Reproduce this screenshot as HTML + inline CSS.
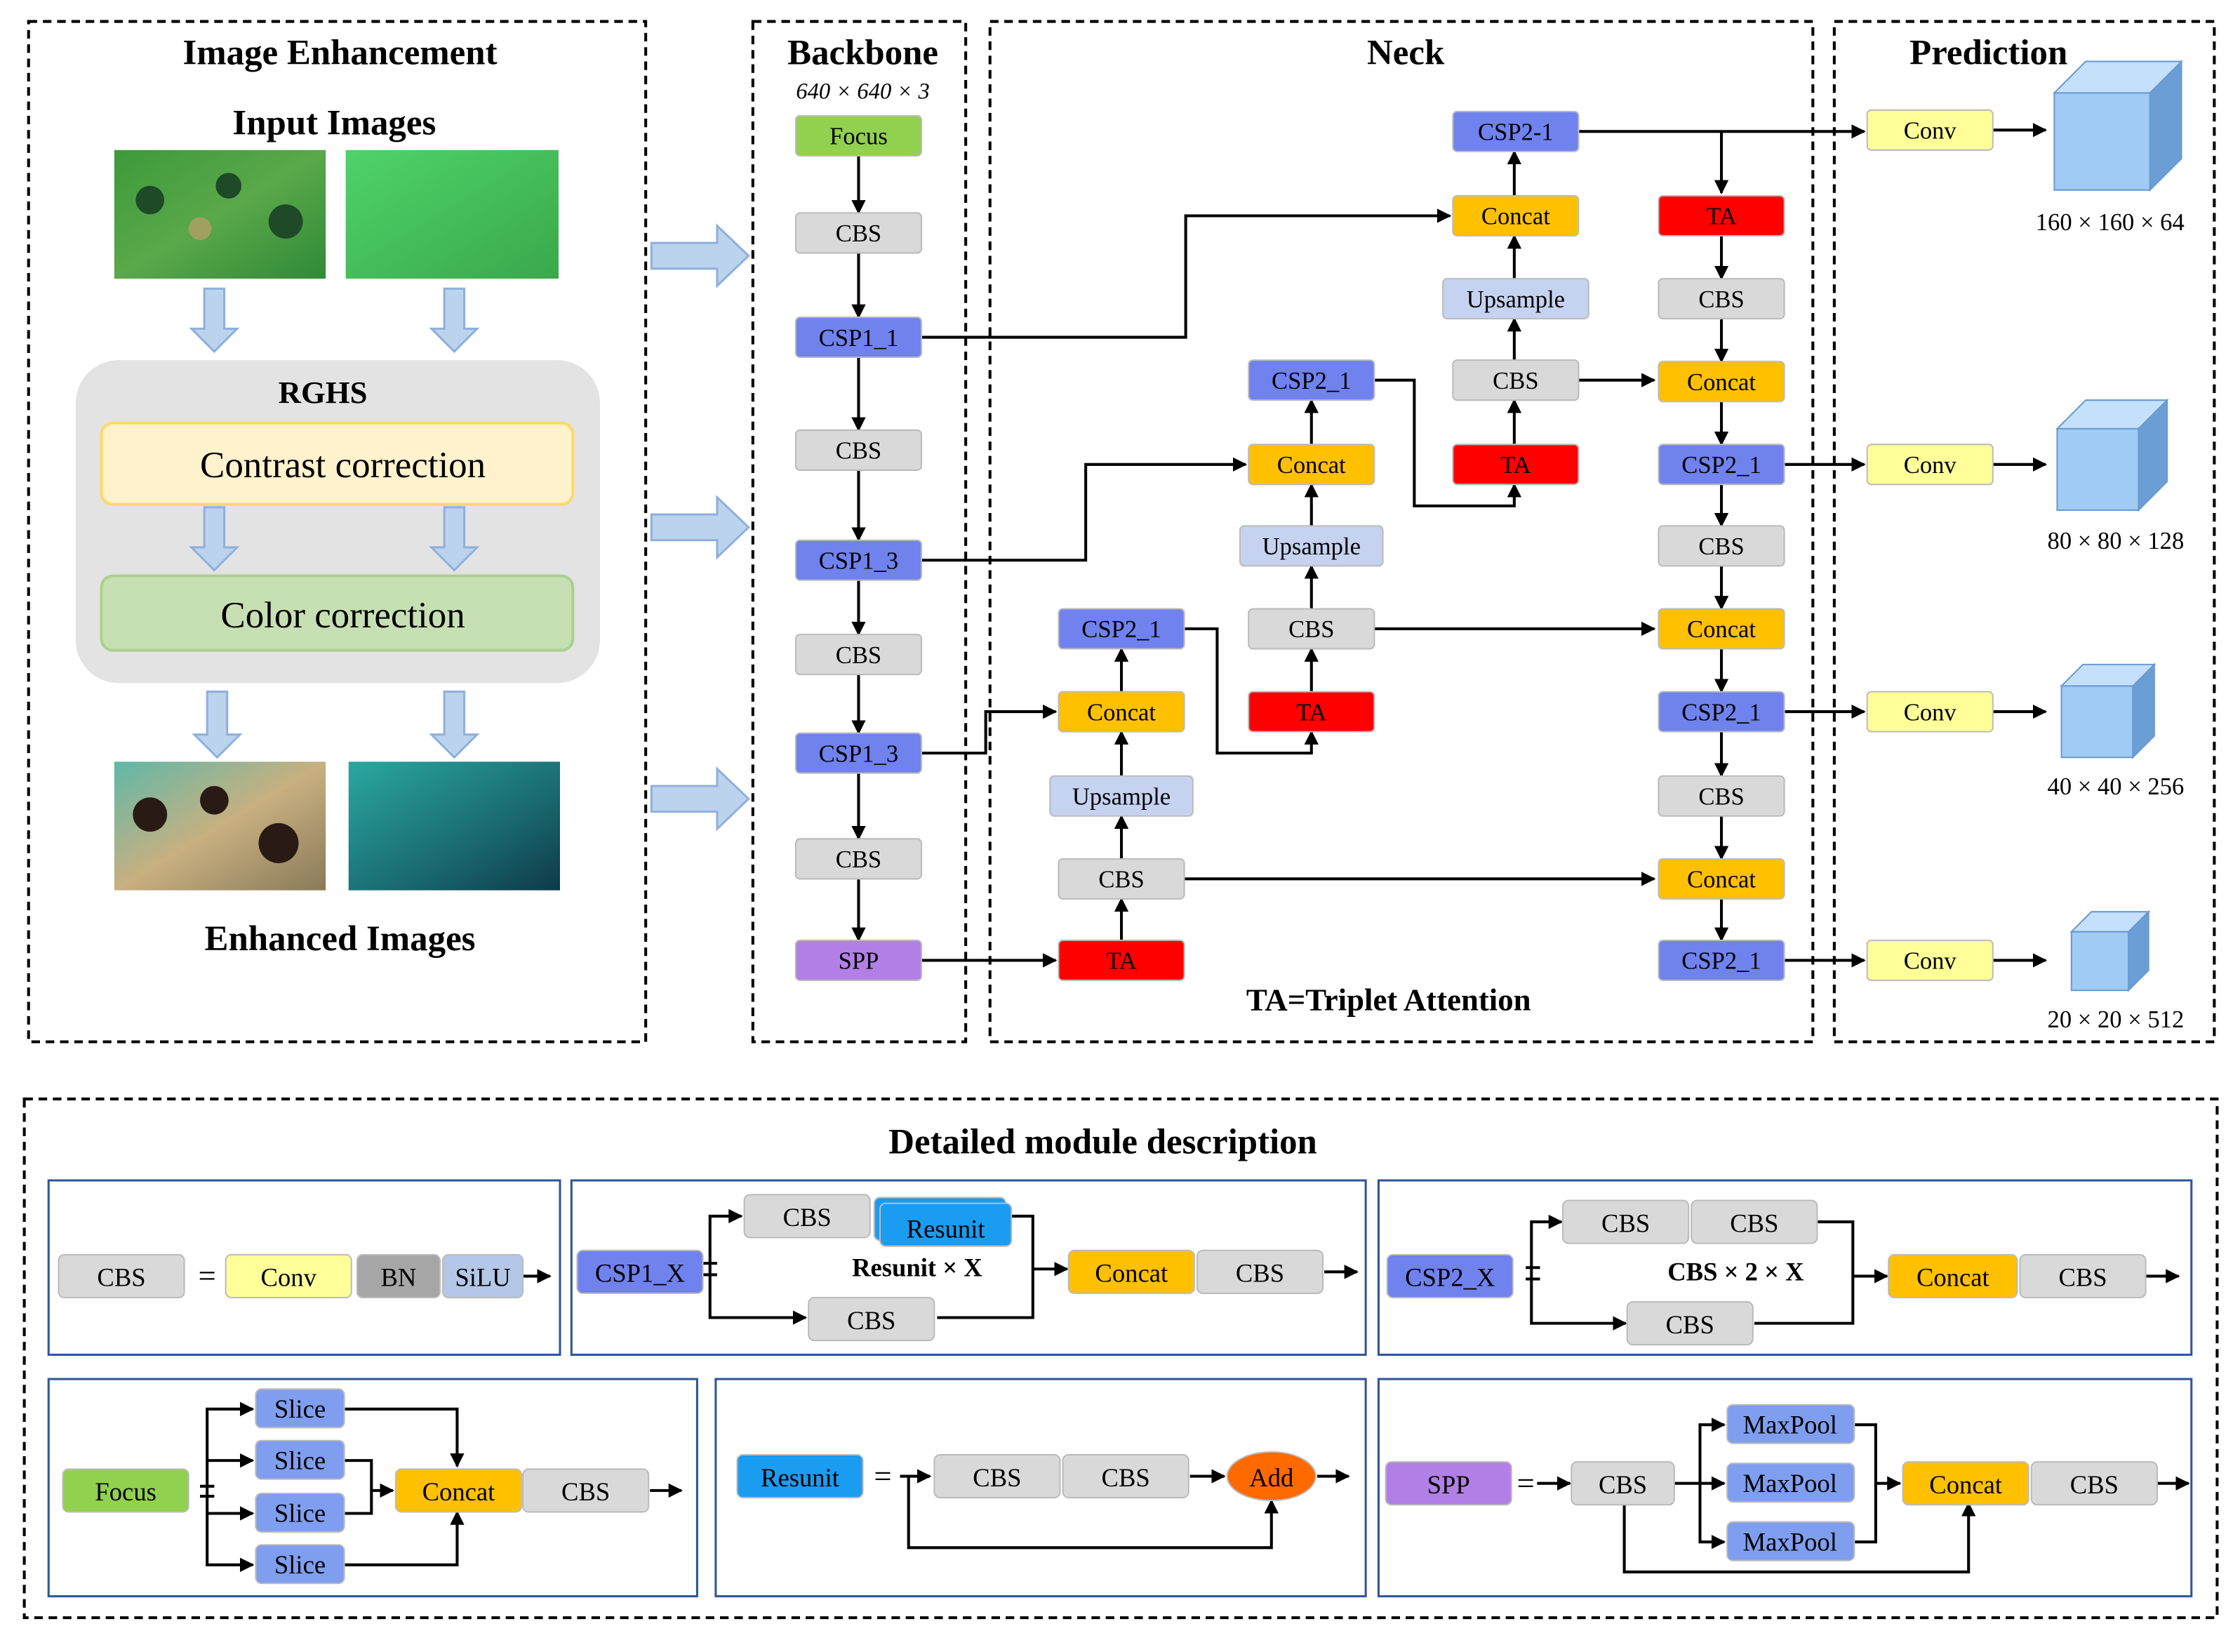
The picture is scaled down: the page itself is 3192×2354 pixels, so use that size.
<!DOCTYPE html>
<html><head><meta charset="utf-8"><style>
html,body{margin:0;padding:0;background:#fff;}
svg{display:block;}
text{font-family:"Liberation Serif",serif;}
</style></head><body>
<svg width="3192" height="2354" viewBox="0 0 1568 1156" preserveAspectRatio="none" xmlns="http://www.w3.org/2000/svg">
<defs>
<marker id="a" viewBox="0 0 10 10" refX="9" refY="5" markerWidth="5" markerHeight="5" orient="auto"><path d="M0,0 L10,5 L0,10 z" fill="#000"/></marker>
<linearGradient id="g1" x1="0" y1="0" x2="1" y2="1"><stop offset="0" stop-color="#3c9a3a"/><stop offset="0.5" stop-color="#5aa84a"/><stop offset="1" stop-color="#2f8a36"/></linearGradient>
<linearGradient id="g2" x1="0" y1="0" x2="1" y2="1"><stop offset="0" stop-color="#4fd36a"/><stop offset="1" stop-color="#3aa84a"/></linearGradient>
<linearGradient id="g3" x1="0" y1="0" x2="1" y2="1"><stop offset="0" stop-color="#5fb8a8"/><stop offset="0.5" stop-color="#c8b080"/><stop offset="1" stop-color="#8a7a5a"/></linearGradient>
<linearGradient id="g4" x1="0" y1="0" x2="1" y2="1"><stop offset="0" stop-color="#2aa8a0"/><stop offset="0.6" stop-color="#1a6a70"/><stop offset="1" stop-color="#0e3a48"/></linearGradient>
</defs>
<g fill="none" stroke="#000" stroke-width="2" stroke-dasharray="6,4">
<rect x="20" y="15" width="432" height="714"/>
<rect x="527" y="15" width="149" height="714"/>
<rect x="693" y="15" width="576" height="714"/>
<rect x="1284" y="15" width="266" height="714"/>
<rect x="17" y="769" width="1535" height="363"/>
</g>
<g font-weight="bold" font-size="25" text-anchor="middle">
<text x="238" y="45">Image Enhancement</text>
<text x="234" y="94">Input Images</text>
<text x="604" y="45">Backbone</text>
<text x="984" y="45">Neck</text>
<text x="1392" y="45">Prediction</text>
<text x="238" y="665">Enhanced  Images</text>
<text x="772" y="807">Detailed module description</text>
<text x="972" y="707" font-size="22">TA=Triplet Attention</text>
</g>
<text x="604" y="69" font-size="16" text-anchor="middle" font-style="italic">640 × 640 × 3</text>
<rect x="80" y="105" width="148" height="90" fill="url(#g1)"/>
<circle cx="105" cy="140" r="10" fill="#1e4a28"/><circle cx="160" cy="130" r="9" fill="#1e4a28"/><circle cx="200" cy="155" r="12" fill="#1e4a28"/><circle cx="140" cy="160" r="8" fill="#a0a060"/>
<rect x="242" y="105" width="149" height="90" fill="url(#g2)"/>
<rect x="80" y="533" width="148" height="90" fill="url(#g3)"/>
<circle cx="105" cy="570" r="12" fill="#2a1a14"/><circle cx="150" cy="560" r="10" fill="#2a1a14"/><circle cx="195" cy="590" r="14" fill="#2a1a14"/>
<rect x="244" y="533" width="148" height="90" fill="url(#g4)"/>
<rect x="53" y="252" width="367" height="226" rx="30" fill="#e3e3e3"/>
<text x="226" y="282" font-size="22" font-weight="bold" text-anchor="middle">RGHS</text>
<rect x="71" y="296" width="330" height="57" rx="8" fill="#fff2cc" stroke="#ffd966" stroke-width="2"/>
<text x="240" y="334" font-size="26" text-anchor="middle">Contrast  correction</text>
<rect x="71" y="403" width="330" height="52" rx="8" fill="#c6e0b4" stroke="#a9d18e" stroke-width="2"/>
<text x="240" y="439" font-size="26" text-anchor="middle">Color  correction</text>
<g fill="#bcd3ee" stroke="#8fb0dc" stroke-width="1.5">
<path d="M143,202 h14 v28 h9 l-16,16 l-16,-16 h9z"/>
<path d="M311,202 h14 v28 h9 l-16,16 l-16,-16 h9z"/>
<path d="M143,355 h14 v28 h9 l-16,16 l-16,-16 h9z"/>
<path d="M311,355 h14 v28 h9 l-16,16 l-16,-16 h9z"/>
<path d="M145,484 h14 v30 h9 l-16,16 l-16,-16 h9z"/>
<path d="M311,484 h14 v30 h9 l-16,16 l-16,-16 h9z"/>
<path d="M456,170 h46 v-12 l22,21 l-22,21 v-12 h-46z"/>
<path d="M456,360 h46 v-12 l22,21 l-22,21 v-12 h-46z"/>
<path d="M456,550 h46 v-12 l22,21 l-22,21 v-12 h-46z"/>
</g>
<g stroke="#000" stroke-width="2" fill="none" marker-end="url(#a)">
<path d="M601,109 V149"/><path d="M601,177 V222"/><path d="M601,250 V301"/><path d="M601,329 V378"/><path d="M601,406 V444"/><path d="M601,472 V513"/><path d="M601,541 V587"/><path d="M601,615 V658"/>
<path d="M645,236 H830 V151 H1015"/>
<path d="M645,392 H760 V325 H872"/>
<path d="M645,527 H690 V498 H739"/>
<path d="M645,672 H739"/>
<path d="M785,658 V629"/><path d="M785,601 V571"/><path d="M785,543 V512"/><path d="M785,484 V454"/>
<path d="M829,440 H852 V527 H918 V512"/>
<path d="M918,484 V454"/><path d="M918,426 V396"/><path d="M918,368 V339"/><path d="M918,311 V280"/>
<path d="M962,266 H990 V354 H1060 V339"/>
<path d="M1060,311 V280"/><path d="M1060,252 V223"/><path d="M1060,195 V165"/><path d="M1060,137 V106"/>
<path d="M1104,92 H1305"/><path d="M1205,92 V135"/>
<path d="M1205,165 V195"/><path d="M1205,223 V253"/><path d="M1205,281 V311"/><path d="M1205,339 V368"/><path d="M1205,396 V426"/><path d="M1205,454 V484"/><path d="M1205,512 V543"/><path d="M1205,571 V601"/><path d="M1205,629 V658"/>
<path d="M1104,266 H1158"/><path d="M962,440 H1158"/><path d="M829,615 H1158"/>
<path d="M1249,325 H1305"/><path d="M1249,498 H1305"/><path d="M1249,672 H1305"/>
<path d="M1395,91 H1432"/><path d="M1395,325 H1432"/><path d="M1395,498 H1432"/><path d="M1395,672 H1432"/>
</g>
<g font-size="17" text-anchor="middle" stroke="#bbb" stroke-width="1">
<rect x="557" y="81" width="88" height="28" rx="3" fill="#92d050"/>
<rect x="557" y="149" width="88" height="28" rx="3" fill="#d9d9d9"/>
<rect x="557" y="222" width="88" height="28" rx="3" fill="#7082ee"/>
<rect x="557" y="301" width="88" height="28" rx="3" fill="#d9d9d9"/>
<rect x="557" y="378" width="88" height="28" rx="3" fill="#7082ee"/>
<rect x="557" y="444" width="88" height="28" rx="3" fill="#d9d9d9"/>
<rect x="557" y="513" width="88" height="28" rx="3" fill="#7082ee"/>
<rect x="557" y="587" width="88" height="28" rx="3" fill="#d9d9d9"/>
<rect x="557" y="658" width="88" height="28" rx="3" fill="#b27fe6"/>
<rect x="741" y="658" width="88" height="28" rx="3" fill="#ff0000"/>
<rect x="741" y="601" width="88" height="28" rx="3" fill="#d9d9d9"/>
<rect x="735" y="543" width="100" height="28" rx="3" fill="#c5d3f0"/>
<rect x="741" y="484" width="88" height="28" rx="3" fill="#ffc000"/>
<rect x="741" y="426" width="88" height="28" rx="3" fill="#7082ee"/>
<rect x="874" y="484" width="88" height="28" rx="3" fill="#ff0000"/>
<rect x="874" y="426" width="88" height="28" rx="3" fill="#d9d9d9"/>
<rect x="868" y="368" width="100" height="28" rx="3" fill="#c5d3f0"/>
<rect x="874" y="311" width="88" height="28" rx="3" fill="#ffc000"/>
<rect x="874" y="252" width="88" height="28" rx="3" fill="#7082ee"/>
<rect x="1017" y="311" width="88" height="28" rx="3" fill="#ff0000"/>
<rect x="1017" y="252" width="88" height="28" rx="3" fill="#d9d9d9"/>
<rect x="1010" y="195" width="102" height="28" rx="3" fill="#c5d3f0"/>
<rect x="1017" y="137" width="88" height="28" rx="3" fill="#ffc000"/>
<rect x="1017" y="78" width="88" height="28" rx="3" fill="#7082ee"/>
<rect x="1161" y="137" width="88" height="28" rx="3" fill="#ff0000"/>
<rect x="1161" y="195" width="88" height="28" rx="3" fill="#d9d9d9"/>
<rect x="1161" y="253" width="88" height="28" rx="3" fill="#ffc000"/>
<rect x="1161" y="311" width="88" height="28" rx="3" fill="#7082ee"/>
<rect x="1161" y="368" width="88" height="28" rx="3" fill="#d9d9d9"/>
<rect x="1161" y="426" width="88" height="28" rx="3" fill="#ffc000"/>
<rect x="1161" y="484" width="88" height="28" rx="3" fill="#7082ee"/>
<rect x="1161" y="543" width="88" height="28" rx="3" fill="#d9d9d9"/>
<rect x="1161" y="601" width="88" height="28" rx="3" fill="#ffc000"/>
<rect x="1161" y="658" width="88" height="28" rx="3" fill="#7082ee"/>
<rect x="1307" y="77" width="88" height="28" rx="3" fill="#ffff99"/>
<rect x="1307" y="311" width="88" height="28" rx="3" fill="#ffff99"/>
<rect x="1307" y="484" width="88" height="28" rx="3" fill="#ffff99"/>
<rect x="1307" y="658" width="88" height="28" rx="3" fill="#ffff99"/>
</g>
<g font-size="17" text-anchor="middle">
<text x="601" y="101">Focus</text><text x="601" y="169">CBS</text><text x="601" y="242">CSP1_1</text><text x="601" y="321">CBS</text><text x="601" y="398">CSP1_3</text><text x="601" y="464">CBS</text><text x="601" y="533">CSP1_3</text><text x="601" y="607">CBS</text><text x="601" y="678">SPP</text>
<text x="785" y="678">TA</text><text x="785" y="621">CBS</text><text x="785" y="563">Upsample</text><text x="785" y="504">Concat</text><text x="785" y="446">CSP2_1</text>
<text x="918" y="504">TA</text><text x="918" y="446">CBS</text><text x="918" y="388">Upsample</text><text x="918" y="331">Concat</text><text x="918" y="272">CSP2_1</text>
<text x="1061" y="331">TA</text><text x="1061" y="272">CBS</text><text x="1061" y="215">Upsample</text><text x="1061" y="157">Concat</text><text x="1061" y="98">CSP2-1</text>
<text x="1205" y="157">TA</text><text x="1205" y="215">CBS</text><text x="1205" y="273">Concat</text><text x="1205" y="331">CSP2_1</text><text x="1205" y="388">CBS</text><text x="1205" y="446">Concat</text><text x="1205" y="504">CSP2_1</text><text x="1205" y="563">CBS</text><text x="1205" y="621">Concat</text><text x="1205" y="678">CSP2_1</text>
<text x="1351" y="97">Conv</text><text x="1351" y="331">Conv</text><text x="1351" y="504">Conv</text><text x="1351" y="678">Conv</text>
</g>
<g stroke="#6a9ad0" stroke-width="1">
<rect x="1438" y="65" width="67" height="68" fill="#9fcbf5"/><path d="M1438,65 l22,-22 h67 l-22,22z" fill="#c5e0fa"/><path d="M1505,65 l22,-22 v68 l-22,22z" fill="#6c9ed6"/>
<rect x="1440" y="300" width="57" height="57" fill="#9fcbf5"/><path d="M1440,300 l20,-20 h57 l-20,20z" fill="#c5e0fa"/><path d="M1497,300 l20,-20 v57 l-20,20z" fill="#6c9ed6"/>
<rect x="1443" y="480" width="50" height="50" fill="#9fcbf5"/><path d="M1443,480 l15,-15 h50 l-15,15z" fill="#c5e0fa"/><path d="M1493,480 l15,-15 v50 l-15,15z" fill="#6c9ed6"/>
<rect x="1450" y="652" width="40" height="41" fill="#9fcbf5"/><path d="M1450,652 l14,-14 h40 l-14,14z" fill="#c5e0fa"/><path d="M1490,652 l14,-14 v41 l-14,14z" fill="#6c9ed6"/>
</g>
<g font-size="17" text-anchor="middle">
<text x="1477" y="161">160 × 160 × 64</text><text x="1481" y="384">80 × 80 × 128</text><text x="1481" y="556">40 × 40 × 256</text><text x="1481" y="719">20 × 20 × 512</text>
</g>
<g fill="none" stroke="#2f5597" stroke-width="1.5">
<rect x="34" y="826" width="358" height="122"/><rect x="400" y="826" width="556" height="122"/><rect x="965" y="826" width="569" height="122"/>
<rect x="34" y="965" width="454" height="152"/><rect x="501" y="965" width="455" height="152"/><rect x="965" y="965" width="569" height="152"/>
</g>
<g stroke="#000" stroke-width="2" fill="none">
<path d="M366,893 H385" marker-end="url(#a)"/>
<path d="M497,890 V851 H519" marker-end="url(#a)"/><path d="M497,890 V922 H564" marker-end="url(#a)"/><path d="M708,851 H723 V922 H656"/><path d="M723,888 H747" marker-end="url(#a)"/><path d="M927,890 H950" marker-end="url(#a)"/>
<path d="M1072,893 V855 H1093" marker-end="url(#a)"/><path d="M1072,893 V926 H1138" marker-end="url(#a)"/><path d="M1272,855 H1297 V926 H1228"/><path d="M1297,893 H1321" marker-end="url(#a)"/><path d="M1502,893 H1525" marker-end="url(#a)"/>
<path d="M145,1043 V986 H177" marker-end="url(#a)"/><path d="M145,1043 V1095 H177" marker-end="url(#a)"/><path d="M145,1022 H177" marker-end="url(#a)"/><path d="M145,1059 H177" marker-end="url(#a)"/>
<path d="M241,986 H320 V1026" marker-end="url(#a)"/><path d="M241,1095 H320 V1058" marker-end="url(#a)"/><path d="M241,1022 H260 V1059 H241"/><path d="M260,1043 H275" marker-end="url(#a)"/><path d="M455,1043 H477" marker-end="url(#a)"/>
<path d="M630,1033 H651" marker-end="url(#a)"/><path d="M636,1033 V1083 H890 V1050" marker-end="url(#a)"/><path d="M833,1033 H857" marker-end="url(#a)"/><path d="M922,1033 H944" marker-end="url(#a)"/>
<path d="M1076,1038 H1099" marker-end="url(#a)"/><path d="M1172,1038 H1207" marker-end="url(#a)"/><path d="M1190,1038 V997 H1207" marker-end="url(#a)"/><path d="M1190,1038 V1079 H1207" marker-end="url(#a)"/>
<path d="M1298,997 H1313 V1079 H1298"/><path d="M1313,1038 H1330" marker-end="url(#a)"/><path d="M1137,1052 V1100 H1378 V1052" marker-end="url(#a)"/><path d="M1510,1038 H1532" marker-end="url(#a)"/>
</g>
<g font-size="22" text-anchor="middle"><text x="145" y="900">=</text><text x="618" y="1040">=</text><text x="1068" y="1045">=</text></g>
<g stroke="#000" stroke-width="2"><path d="M492,884 h10 M492,892 h10"/><path d="M1068,887 h10 M1068,895 h10"/><path d="M140,1040 h10 M140,1047 h10"/></g>
<g stroke="#bbb" stroke-width="1">
<rect x="41" y="878" width="88" height="30" rx="4" fill="#d9d9d9"/><rect x="158" y="878" width="88" height="30" rx="4" fill="#ffff99"/><rect x="250" y="878" width="58" height="30" rx="4" fill="#a6a6a6"/><rect x="310" y="878" width="56" height="30" rx="4" fill="#b4c7e7"/>
<rect x="404" y="875" width="88" height="30" rx="4" fill="#7082ee"/><rect x="521" y="836" width="88" height="30" rx="4" fill="#d9d9d9"/>
<rect x="612" y="838" width="92" height="30" rx="4" fill="#1a9cf0"/><rect x="616" y="842" width="92" height="30" rx="4" fill="#1a9cf0"/>
<rect x="566" y="908" width="88" height="30" rx="4" fill="#d9d9d9"/><rect x="748" y="875" width="88" height="30" rx="4" fill="#ffc000"/><rect x="838" y="875" width="88" height="30" rx="4" fill="#d9d9d9"/>
<rect x="971" y="878" width="88" height="30" rx="4" fill="#7082ee"/><rect x="1094" y="840" width="88" height="30" rx="4" fill="#d9d9d9"/><rect x="1184" y="840" width="88" height="30" rx="4" fill="#d9d9d9"/><rect x="1139" y="911" width="88" height="30" rx="4" fill="#d9d9d9"/><rect x="1322" y="878" width="90" height="30" rx="4" fill="#ffc000"/><rect x="1414" y="878" width="88" height="30" rx="4" fill="#d9d9d9"/>
<rect x="44" y="1028" width="88" height="30" rx="4" fill="#92d050"/><rect x="179" y="972" width="62" height="27" rx="4" fill="#7f9ef0"/><rect x="179" y="1008" width="62" height="27" rx="4" fill="#7f9ef0"/><rect x="179" y="1045" width="62" height="27" rx="4" fill="#7f9ef0"/><rect x="179" y="1081" width="62" height="27" rx="4" fill="#7f9ef0"/><rect x="277" y="1028" width="88" height="30" rx="4" fill="#ffc000"/><rect x="366" y="1028" width="88" height="30" rx="4" fill="#d9d9d9"/>
<rect x="516" y="1018" width="88" height="30" rx="4" fill="#1a9cf0"/><rect x="654" y="1018" width="88" height="30" rx="4" fill="#d9d9d9"/><rect x="744" y="1018" width="88" height="30" rx="4" fill="#d9d9d9"/><ellipse cx="890" cy="1033" rx="31" ry="17" fill="#ff6a00"/>
<rect x="970" y="1023" width="88" height="30" rx="4" fill="#b27fe6"/><rect x="1100" y="1023" width="72" height="30" rx="4" fill="#d9d9d9"/><rect x="1209" y="983" width="89" height="27" rx="4" fill="#7f9ef0"/><rect x="1209" y="1024" width="89" height="27" rx="4" fill="#7f9ef0"/><rect x="1209" y="1065" width="89" height="27" rx="4" fill="#7f9ef0"/><rect x="1332" y="1023" width="88" height="30" rx="4" fill="#ffc000"/><rect x="1422" y="1023" width="88" height="30" rx="4" fill="#d9d9d9"/>
</g>
<g font-size="18" text-anchor="middle">
<text x="85" y="900">CBS</text><text x="202" y="900">Conv</text><text x="279" y="900">BN</text><text x="338" y="900">SiLU</text>
<text x="448" y="897">CSP1_X</text><text x="565" y="858">CBS</text><text x="662" y="866">Resunit</text><text x="642" y="893" font-weight="bold">Resunit × X</text><text x="610" y="930">CBS</text><text x="792" y="897">Concat</text><text x="882" y="897">CBS</text>
<text x="1015" y="900">CSP2_X</text><text x="1138" y="862">CBS</text><text x="1228" y="862">CBS</text><text x="1215" y="896" font-weight="bold">CBS × 2 × X</text><text x="1183" y="933">CBS</text><text x="1367" y="900">Concat</text><text x="1458" y="900">CBS</text>
<text x="88" y="1050">Focus</text><text x="210" y="992">Slice</text><text x="210" y="1028">Slice</text><text x="210" y="1065">Slice</text><text x="210" y="1101">Slice</text><text x="321" y="1050">Concat</text><text x="410" y="1050">CBS</text>
<text x="560" y="1040">Resunit</text><text x="698" y="1040">CBS</text><text x="788" y="1040">CBS</text><text x="890" y="1040">Add</text>
<text x="1014" y="1045">SPP</text><text x="1136" y="1045">CBS</text><text x="1253" y="1003">MaxPool</text><text x="1253" y="1044">MaxPool</text><text x="1253" y="1085">MaxPool</text><text x="1376" y="1045">Concat</text><text x="1466" y="1045">CBS</text>
</g>
</svg>
</body></html>
